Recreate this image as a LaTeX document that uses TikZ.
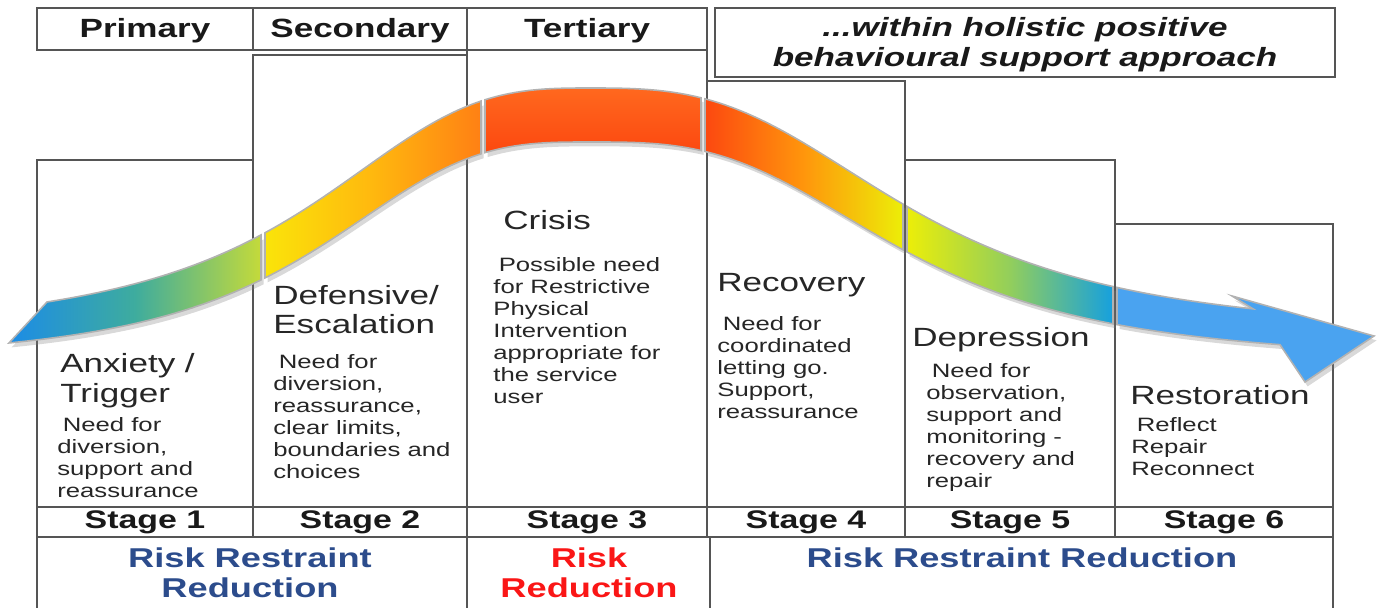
\documentclass[tikz,border=0pt]{standalone}
\usepackage{fontspec}
\setmainfont[FakeStretch=1.33]{Liberation Sans}
\usetikzlibrary{shadows}
\definecolor{boxline}{RGB}{85,85,85}
\definecolor{rrblue}{RGB}{44,76,140}
\definecolor{rred}{RGB}{250,22,22}
\definecolor{ribblue}{RGB}{28,140,230}
\definecolor{ribteal}{RGB}{62,172,158}
\definecolor{ribyg}{RGB}{196,218,58}
\definecolor{ribyellow}{RGB}{250,228,10}
\definecolor{ribamber}{RGB}{255,184,14}
\definecolor{riborange}{RGB}{255,128,20}
\definecolor{ribred}{RGB}{252,72,16}
\definecolor{ribpeak}{RGB}{255,104,30}
\definecolor{ribmid}{RGB}{255,150,12}
\definecolor{ribyellowb}{RGB}{236,238,8}
\definecolor{ribgreen}{RGB}{146,206,92}
\definecolor{ribcyan}{RGB}{22,160,222}
\definecolor{ribsky}{RGB}{74,163,240}
\tikzset{
	cellbox/.style={draw=boxline, line width=0.7pt},
	band/.style={draw=black!30, line width=0.9pt, drop shadow={opacity=0.3, shadow xshift=1.5pt, shadow yshift=-2.5pt}},
	phase/.style={anchor=north west, inner sep=0pt, align=left, font=\fontsize{15}{17}\selectfont, text=black!85},
	need/.style={anchor=north west, inner sep=0pt, align=left, font=\fontsize{11}{12.5}\selectfont, text=black!85},
	head/.style={font=\fontsize{15}{17}\selectfont\bfseries, text=black!90},
	stagelbl/.style={font=\fontsize{14.5}{17}\selectfont\bfseries, text=black!90},
	risk/.style={align=center, font=\fontsize{15.5}{17}\selectfont\bfseries}
}

\begin{document}
\begin{tikzpicture}[x=0.02cm, y=-0.02cm,
		declare function={uu(\t)=ifthenelse(\t<590, pow(abs(\t-590)/285,3), pow(abs(\t-590)/323,3));
			cy(\t)=115+235*uu(\t)/(1+uu(\t));
			hh(\t)=15+12*exp(-pow(abs(\t-590)/480,2));}]
	\clip (0,0) rectangle (1382,608);

	\draw[cellbox] (37,8) rectangle (707,50) (253,8) -- (253,50) (467,8) -- (467,50);
	\draw[cellbox] (715,8) rectangle (1335,77);
	\draw[cellbox] (37,160) rectangle (253,507);
	\draw[cellbox] (253,55) rectangle (467,507);
	\draw[cellbox] (467,50) rectangle (707,507);
	\draw[cellbox] (707,81) rectangle (905,507);
	\draw[cellbox] (905,160) rectangle (1115,507);
	\draw[cellbox] (1115,224) rectangle (1333,507);
	\draw[cellbox] (37,507) rectangle (1333,537);
	\foreach \xb in {253,467,707,905,1115}
		\draw[cellbox] (\xb,507) -- (\xb,537);
	\draw[cellbox] (37,620) |- (1333,537) -- (1333,620) (467,537) -- (467,620) (710,537) -- (710,620);

	\path[band, left color=ribblue, right color=ribyg, middle color=ribteal]
		plot[domain=47:261, samples=30] (\x,{cy(\x)-hh(\x)}) -- plot[domain=261:9, samples=30] (\x,{cy(\x)+hh(\x)}) -- cycle;
	\path[band, left color=ribyellow, right color=riborange, middle color=ribamber]
		plot[domain=265:481, samples=30] (\x,{cy(\x)-hh(\x)}) -- plot[domain=481:265, samples=30] (\x,{cy(\x)+hh(\x)}) -- cycle;
	\path[band, top color=ribpeak, bottom color=ribred]
		plot[domain=485:701, samples=30] (\x,{cy(\x)-hh(\x)}) -- plot[domain=701:485, samples=30] (\x,{cy(\x)+hh(\x)}) -- cycle;
	\path[band, left color=ribred, right color=ribyellowb, middle color=ribmid]
		plot[domain=705:903, samples=30] (\x,{cy(\x)-hh(\x)}) -- plot[domain=903:705, samples=30] (\x,{cy(\x)+hh(\x)}) -- cycle;
	\path[band, left color=ribyellowb, right color=ribcyan, middle color=ribgreen]
		plot[domain=907:1113, samples=30] (\x,{cy(\x)-hh(\x)}) -- plot[domain=1113:907, samples=30] (\x,{cy(\x)+hh(\x)}) -- cycle;
	\path[band, fill=ribsky]
		plot[domain=1117:1253, samples=20] (\x,{cy(\x)-hh(\x)}) -- (1232,296) -- (1374,336) -- (1305,382)
		-- plot[domain=1280:1117, samples=20] (\x,{cy(\x)+hh(\x)}) -- cycle;

	\node[head] (primary) at (145,31) {Primary};
	\node[head] (secondary) at (360,31) {Secondary};
	\node[head] (tertiary) at (587,31) {Tertiary};
	\node[head, align=center, font=\fontsize{15}{17}\selectfont\bfseries\itshape] (holistic) at (1025,45) {...within holistic positive\\behavioural support approach};

	\node[phase] (anxiety) at (60,353) {Anxiety /\\Trigger};
	\node[need] (anxietyneed) at (57,417) {\hspace*{0.28em}Need for\\diversion,\\support and\\reassurance};
	\node[phase, font=\fontsize{15}{16.5}\selectfont] (defensive) at (273,285) {Defensive/\\Escalation};
	\node[need] (defensiveneed) at (273,354) {\hspace*{0.28em}Need for\\diversion,\\reassurance,\\clear limits,\\boundaries and\\choices};
	\node[phase] (crisis) at (503,210) {Crisis};
	\node[need] (crisisneed) at (493,257) {\hspace*{0.28em}Possible need\\for Restrictive\\Physical\\Intervention\\appropriate for\\the service\\user};
	\node[phase] (recovery) at (717,273) {Recovery};
	\node[need] (recoveryneed) at (717,316) {\hspace*{0.28em}Need for\\coordinated\\letting go.\\Support,\\reassurance};
	\node[phase] (depression) at (912,327) {Depression};
	\node[need] (depressionneed) at (926,363) {\hspace*{0.28em}Need for\\observation,\\support and\\monitoring -\\recovery and\\repair};
	\node[phase] (restoration) at (1130,385) {Restoration};
	\node[need] (restorationneed) at (1131,417) {\hspace*{0.28em}Reflect\\Repair\\Reconnect};

	\node[stagelbl] (stage1) at (145,522) {Stage 1};
	\node[stagelbl] (stage2) at (360,522) {Stage 2};
	\node[stagelbl] (stage3) at (587,522) {Stage 3};
	\node[stagelbl] (stage4) at (806,522) {Stage 4};
	\node[stagelbl] (stage5) at (1010,522) {Stage 5};
	\node[stagelbl] (stage6) at (1224,522) {Stage 6};

	\node[risk, text=rrblue] (rrrleft) at (250,573) {Risk Restraint\\Reduction};
	\node[risk, text=rred] (rr) at (589,573) {Risk\\Reduction};
	\node[risk, text=rrblue] (rrrright) at (1022,558) {Risk Restraint Reduction};
\end{tikzpicture}
\end{document}
